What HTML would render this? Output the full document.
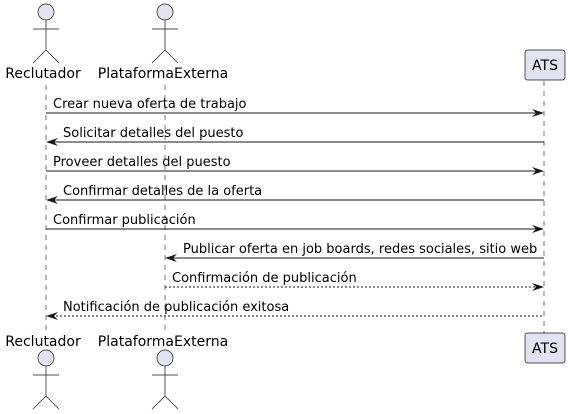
<!DOCTYPE html>
<html><head><meta charset="utf-8"><style>body{margin:0;background:#fff}svg{display:block}</style></head><body>
<svg width="570" height="414" xmlns="http://www.w3.org/2000/svg" font-family="DejaVu Sans, sans-serif" font-size="13">
<g stroke="#181818" stroke-width="0.6" stroke-dasharray="5,5">
<line x1="46" y1="85" x2="46" y2="333"/>
<line x1="165" y1="85" x2="165" y2="333"/>
<line x1="544" y1="81" x2="544" y2="333"/>
</g>
<g fill="#E2E2F0" stroke="#181818" stroke-width="0.7">
<circle cx="46" cy="12" r="8"/><circle cx="165" cy="12" r="8"/>
<circle cx="46" cy="358" r="8"/><circle cx="165" cy="358" r="8"/>
<rect x="525" y="50" width="40" height="30" rx="2.5"/>
<rect x="525" y="333" width="40" height="30" rx="2.5"/>
</g>
<g stroke="#181818" stroke-width="0.7" fill="none">
<path d="M46 20V50M33 29H59M33 63L46 50L59 63"/>
<path d="M165 20V50M152 29H178M152 63L165 50L178 63"/>
<path d="M46 366V396M33 375H59M33 409L46 396L59 409"/>
<path d="M165 366V396M152 375H178M152 409L165 396L178 409"/>
</g>
<g fill="#000" font-size="14">
<text x="43" y="78" text-anchor="middle">Reclutador</text>
<text x="163" y="78" text-anchor="middle">PlataformaExterna</text>
<text x="545" y="70" text-anchor="middle">ATS</text>
<text x="43" y="346" text-anchor="middle">Reclutador</text>
<text x="163" y="346" text-anchor="middle">PlataformaExterna</text>
<text x="545" y="353" text-anchor="middle">ATS</text>
</g>
<g stroke="#181818" stroke-width="1" fill="none">
<line x1="46" y1="113" x2="542" y2="113"/>
<line x1="48" y1="142" x2="544" y2="142"/>
<line x1="46" y1="171" x2="542" y2="171"/>
<line x1="48" y1="200" x2="544" y2="200"/>
<line x1="46" y1="229" x2="542" y2="229"/>
<line x1="167" y1="258" x2="544" y2="258"/>
<line x1="165" y1="287" x2="542" y2="287" stroke-dasharray="2,2"/>
<line x1="48" y1="316" x2="544" y2="316" stroke-dasharray="2,2"/>
</g>
<g fill="#181818">
<path d="M532 109L544 113L532 117L536 113Z"/>
<path d="M58 138L46 142L58 146L54 142Z"/>
<path d="M532 167L544 171L532 175L536 171Z"/>
<path d="M58 196L46 200L58 204L54 200Z"/>
<path d="M532 225L544 229L532 233L536 229Z"/>
<path d="M177 254L165 258L177 262L173 258Z"/>
<path d="M532 283L544 287L532 291L536 287Z"/>
<path d="M58 312L46 316L58 320L54 316Z"/>
</g>
<g fill="#000">
<text x="53" y="108">Crear nueva oferta de trabajo</text>
<text x="63" y="137">Solicitar detalles del puesto</text>
<text x="53" y="166">Proveer detalles del puesto</text>
<text x="63" y="195">Confirmar detalles de la oferta</text>
<text x="53" y="224">Confirmar publicación</text>
<text x="183" y="253">Publicar oferta en job boards, redes sociales, sitio web</text>
<text x="172" y="282">Confirmación de publicación</text>
<text x="63" y="311">Notificación de publicación exitosa</text>
</g>
</svg>
</body></html>
